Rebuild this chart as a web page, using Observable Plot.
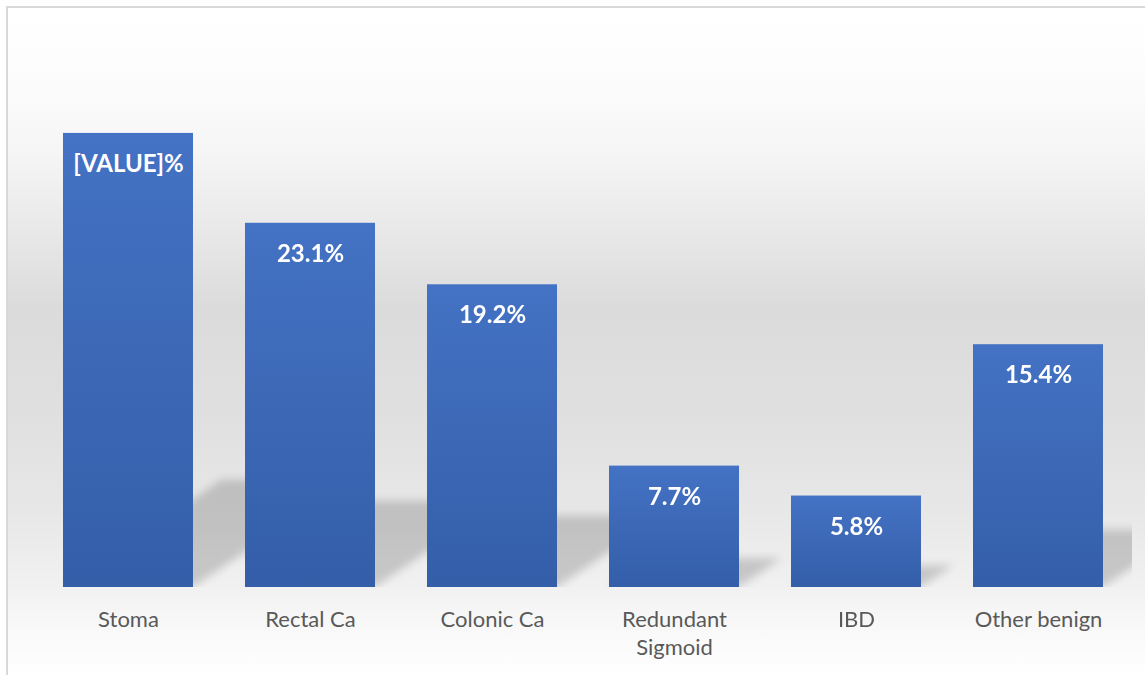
<!DOCTYPE html>
<html>
<head>
<meta charset="utf-8">
<script src="https://cdn.jsdelivr.net/npm/d3@7"></script>
<script src="https://cdn.jsdelivr.net/npm/@observablehq/plot@0.6"></script>
<style>
  html, body { margin: 0; padding: 0; background: #fff; overflow: hidden; width: 1145px; height: 675px; }
  #bg {
    position: absolute; left: 6px; top: 6px; width: 1145px; height: 675px;
    border-left: 2px solid #d9d9d9; border-top: 2px solid #d9d9d9;
    background: linear-gradient(to bottom,
      #ffffff 0px, #fdfdfd 60px, #f6f6f6 140px, #e9e9e9 220px, #dbdbdb 300px,
      #e0e0e0 410px, #e7e7e7 500px, #f1f1f1 580px, #f7f7f7 610px, #ffffff 669px);
  }
  #chart { position: absolute; left: 0; top: 0; }
</style>
</head>
<body>
<div id="bg"></div>
<div id="chart"></div>
<script>
const categories = ["Stoma", "Rectal Ca", "Colonic Ca", "Redundant Sigmoid", "IBD", "Other benign"];
const values = [28.8, 23.1, 19.2, 7.7, 5.8, 15.4];
const valueLabels = ["[VALUE]%", "23.1%", "19.2%", "7.7%", "5.8%", "15.4%"];
const tickLabels = ["Stoma", "Rectal Ca", "Colonic Ca", "Redundant\nSigmoid", "IBD", "Other benign"];

const rows = categories.map((c, i) => ({cat: c, value: values[i], label: valueLabels[i], tick: tickLabels[i]}));

const shadowK = 0.236;      // vertical compression of perspective shadow
const shadowSkew = Math.atan(1.48) * 180 / Math.PI;

const chart = Plot.plot({
  width: 1145,
  height: 675,
  marginLeft: 36,
  marginRight: 13,
  marginTop: 114,
  marginBottom: 88,
  style: {background: "transparent", fontFamily: "Lato, 'Open Sans', sans-serif", overflow: "visible"},
  x: {domain: categories, paddingInner: 0.284, paddingOuter: 0.15, align: 0.477, axis: null},
  y: {domain: [0, 30], axis: null},
  marks: [
    // perspective shadows
    Plot.barY(rows, {
      x: "cat", y: "value", fill: "#000", fillOpacity: 0.17, clip: "frame",
      render(index, scales, vals, dims, context, next) {
        const g = next(index, scales, vals, dims, context);
        g.setAttribute("filter", "url(#shadowBlur)");
        for (const r of g.querySelectorAll("rect")) {
          const b = +r.getAttribute("y") + +r.getAttribute("height");
          r.setAttribute("transform",
            `translate(0,${b}) skewX(${-shadowSkew}) scale(1,${shadowK}) translate(0,${-b})`);
        }
        return g;
      }
    }),
    Plot.barY(rows, {x: "cat", y: "value", fill: "url(#barGrad)"}),
    Plot.text(rows, {
      x: "cat", y: "value", text: "label", dy: 21.5, lineAnchor: "top",
      fill: "#ffffff", fontSize: 24, fontWeight: "bold"
    }),
    Plot.text(rows, {
      x: "cat", y: 0, text: "tick", dy: 19, lineAnchor: "top",
      fill: "#595959", fontSize: 22, lineHeight: 1.3
    })
  ]
});

d3.select(chart).insert("defs", ":first-child").html(`
  <linearGradient id="barGrad" x1="0" y1="0" x2="0" y2="1">
    <stop offset="0" stop-color="#4472c4"/>
    <stop offset="1" stop-color="#345ea8"/>
  </linearGradient>
  <filter id="shadowBlur" x="-20%" y="-20%" width="140%" height="140%">
    <feGaussianBlur stdDeviation="4.5"/>
  </filter>
`);

document.getElementById("chart").appendChild(chart);
</script>
</body>
</html>
